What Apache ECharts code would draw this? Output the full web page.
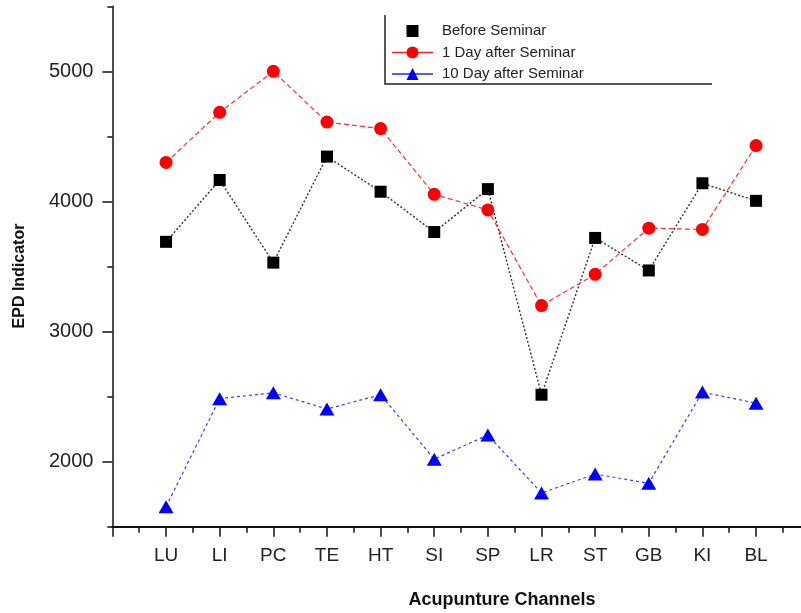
<!DOCTYPE html>
<html>
<head>
<meta charset="utf-8">
<script src="https://cdn.jsdelivr.net/npm/echarts@6/dist/echarts.min.js"></script>
<style>
html,body{margin:0;padding:0;background:#fff;}
#chart{width:801px;height:613px;}
</style>
</head>
<body>
<div id="chart"></div>
<script>
const categories = ['LU','LI','PC','TE','HT','SI','SP','LR','ST','GB','KI','BL'];
const beforeSeminar = [3690, 4165, 3530, 4345, 4075, 3765, 4095, 2515, 3720, 3470, 4140, 4005];
const oneDayAfter = [4300, 4685, 5000, 4610, 4560, 4055, 3935, 3200, 3440, 3795, 3785, 4430];
const tenDayAfter = [1655, 2485, 2530, 2405, 2515, 2020, 2205, 1760, 1905, 1835, 2535, 2450];
const seriesNames = ['Before Seminar', '1 Day after Seminar', '10 Day after Seminar'];
const yMajorTicks = [2000, 3000, 4000, 5000];
const yMinorTicks = [1500, 2500, 3500, 4500, 5500];

const FONT = '"Liberation Sans", Arial, sans-serif';
const toPairs = arr => arr.map((v, i) => [i + 1, v]);

const chart = echarts.init(document.getElementById('chart'), null, {renderer: 'canvas'});
const yBase = {
  type: 'value', min: 1500, max: 5500, interval: 500, position: 'left',
  splitLine: {show: false}
};
const option = {
  backgroundColor: '#fff',
  animation: false,
  grid: {left: 112.4, top: 6.3, width: 697.3, height: 520.5, containLabel: false, outerBoundsMode: 'none'},
  xAxis: {
    type: 'value', min: 0, max: 13, interval: 1,
    axisLine: {show: true, onZero: false, lineStyle: {color: '#111', width: 2}},
    axisTick: {show: true, length: 10, lineStyle: {color: '#111', width: 1.5}},
    minorTick: {show: true, splitNumber: 2, length: 6, lineStyle: {color: '#111', width: 1.5}},
    splitLine: {show: false},
    axisLabel: {
      margin: 19, fontSize: 19, fontFamily: FONT, color: '#222',
      formatter: v => (Number.isInteger(v) && v >= 1 && v <= categories.length) ? categories[v - 1] : ''
    }
  },
  yAxis: [
    Object.assign({}, yBase, {
      axisLine: {show: true, lineStyle: {color: '#111', width: 1.5}},
      axisTick: {show: true, length: 10, customValues: yMajorTicks, lineStyle: {color: '#111', width: 1.5}},
      axisLabel: {margin: 19, fontSize: 20, fontFamily: FONT, color: '#222', customValues: yMajorTicks,
        formatter: v => String(v)}
    }),
    Object.assign({}, yBase, {
      axisLine: {show: false},
      axisTick: {show: true, length: 5, customValues: yMinorTicks, lineStyle: {color: '#111', width: 1.5}},
      axisLabel: {show: false}
    })
  ],
  legend: {
    orient: 'vertical', left: 391, top: 23.5, padding: 0,
    itemWidth: 41, itemHeight: 15, itemGap: 6.5,
    textStyle: {fontSize: 15, fontFamily: FONT, color: '#222', padding: [0, 0, 0, 4]},
    data: [
      {name: seriesNames[0], lineStyle: {opacity: 0}},
      {name: seriesNames[1], lineStyle: {type: 'solid', width: 1.5, color: '#ff2020'}},
      {name: seriesNames[2], lineStyle: {type: 'solid', width: 1.5, color: '#2020ff'}}
    ]
  },
  graphic: [
    {type: 'polyline', shape: {points: [[385, 15], [385, 84], [712, 84]]}, style: {stroke: '#222', lineWidth: 1.5, fill: null}},
    {type: 'text', x: 502, y: 600, style: {text: 'Acupunture Channels', font: 'bold 18px ' + FONT, fill: '#111', align: 'center', verticalAlign: 'middle'}},
    {type: 'text', x: 20, y: 276, rotation: Math.PI / 2, style: {text: 'EPD Indicator', font: 'bold 16px ' + FONT, fill: '#111', align: 'center', verticalAlign: 'middle'}}
  ],
  series: [
    {
      name: seriesNames[0], type: 'line', yAxisIndex: 0, data: toPairs(beforeSeminar),
      symbol: 'rect', symbolSize: 12,
      itemStyle: {color: '#000'},
      lineStyle: {color: '#333', width: 1.4, type: [2, 2]}
    },
    {
      name: seriesNames[1], type: 'line', yAxisIndex: 0, data: toPairs(oneDayAfter),
      symbol: 'circle', symbolSize: 13,
      itemStyle: {color: '#ff0000'},
      lineStyle: {color: '#ff3030', width: 1.2, type: [5, 3]}
    },
    {
      name: seriesNames[2], type: 'line', yAxisIndex: 0, data: toPairs(tenDayAfter),
      symbol: 'triangle', symbolSize: [15, 13],
      itemStyle: {color: '#0000ff'},
      lineStyle: {color: '#3a3aff', width: 1.2, type: [3, 3]}
    }
  ]
};
chart.setOption(option);
</script>
</body>
</html>
